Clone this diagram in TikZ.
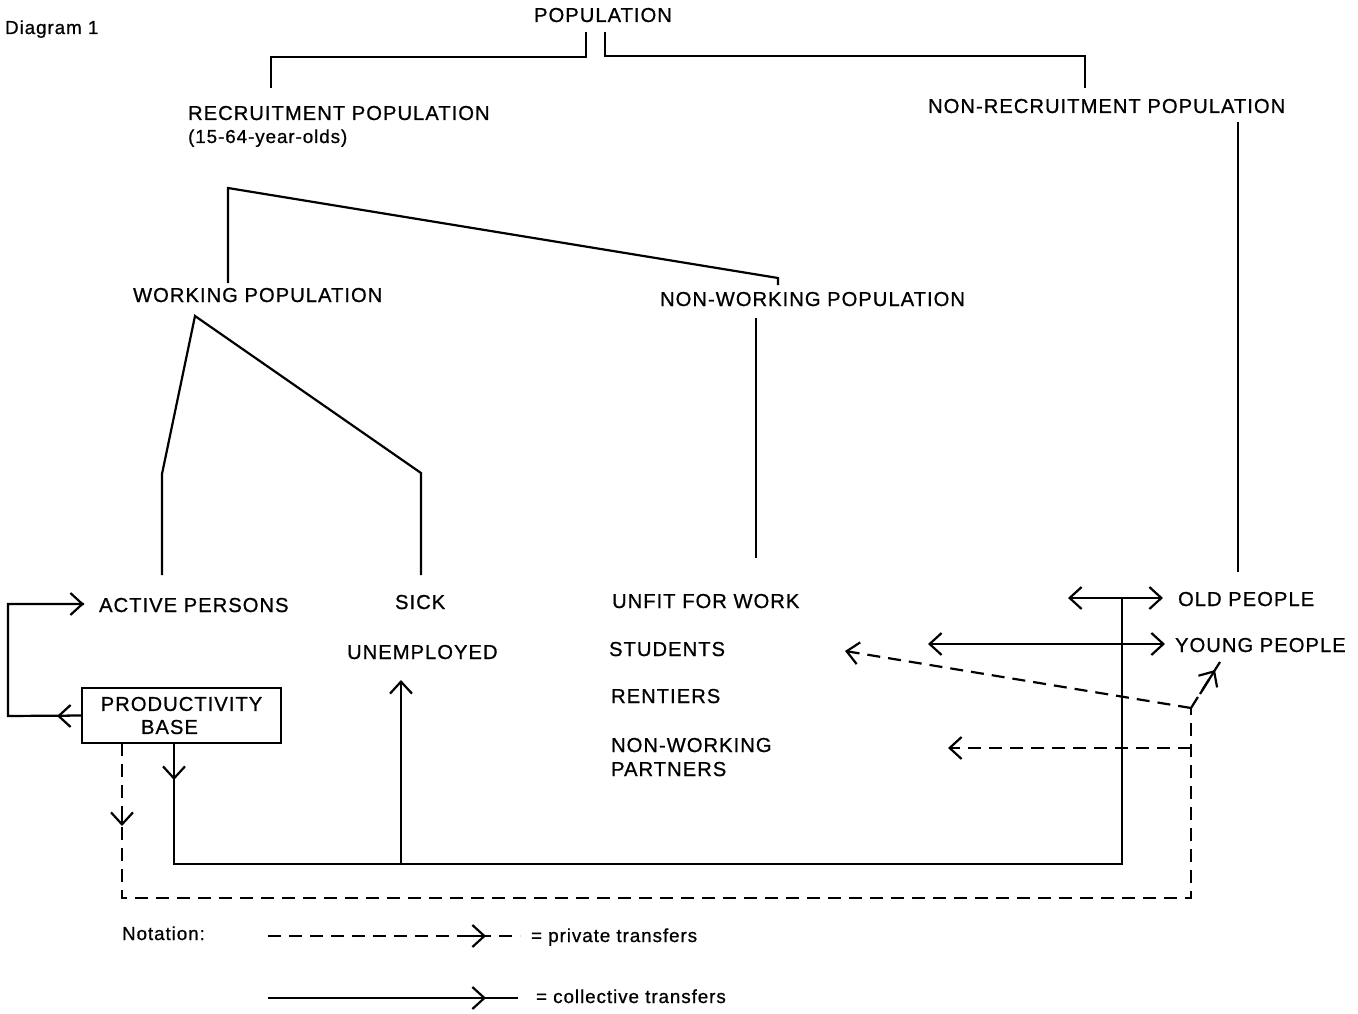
\documentclass[tikz,border=0pt]{standalone}
\usepackage{fontspec}
\setmainfont{Liberation Sans}[LetterSpace=5,FakeBold=0.8]
\usetikzlibrary{arrows.meta}
\tikzset{
  lbl/.style={inner sep=0pt, anchor=base west, font=\fontsize{20.2}{24}\selectfont},
  sml/.style={inner sep=0pt, anchor=base west, font=\fontsize{18.8}{22}\selectfont},
  priv/.style={dash pattern=on 13pt off 8pt},
  boxstyle/.style={draw, rectangle, inner sep=0pt, minimum width=199pt, minimum height=55pt,
    align=center, font=\fontsize{20.2}{23}\selectfont},
  >={Straight Barb[length=12pt,width=22pt]}
}
\begin{document}
\begin{tikzpicture}[x=1pt,y=-1pt,line width=2.2pt]
\useasboundingbox (0,0) rectangle (1358,1014);
% texts
\node[sml] (diag) at (4,34) {Diagram 1};
\node[lbl] (pop) at (533,22) {POPULATION};
\node[lbl] (rec) at (187,120) {RECRUITMENT POPULATION};
\node[sml] (recage) at (187,143) {(15-64-year-olds)};
\node[lbl] (nonrec) at (927,113) {NON-RECRUITMENT POPULATION};
\node[lbl] (work) at (132,302) {WORKING POPULATION};
\node[lbl] (nonwork) at (659,306) {NON-WORKING POPULATION};
\node[lbl] (active) at (98,612) {ACTIVE PERSONS};
\node[lbl] (sick) at (394,609) {SICK};
\node[lbl] (unemp) at (346,659) {UNEMPLOYED};
\node[lbl] (unfit) at (611,608) {UNFIT FOR WORK};
\node[lbl] (stud) at (608,656) {STUDENTS};
\node[lbl] (rent) at (610,703) {RENTIERS};
\node[lbl] (nwp1) at (610,752) {NON-WORKING};
\node[lbl] (nwp2) at (610,776) {PARTNERS};
\node[lbl] (old) at (1177,606) {OLD PEOPLE};
\node[lbl] (young) at (1174,652) {YOUNG PEOPLE};
\node[boxstyle] (pb) at (181.5,715.5) {PRODUCTIVITY\\\hspace*{-24pt}BASE};
\node[sml] (nota) at (121,940) {Notation:};
\node[sml] (privl) at (530,942) {= private transfers};
\node[sml] (colll) at (535,1003) {= collective transfers};

% named junctions
\coordinate (popL) at (586,32);
\coordinate (popR) at (605,32);
\coordinate (recTop) at (228,188);
\coordinate (nwTop) at (778,278);
\coordinate (wApex) at (195,316);
\coordinate (youngJ) at (1191,708);
\coordinate (pbS1) at (122,743);
\coordinate (pbS2) at (174,743);

% tree
\draw (popL) -- (586,57) -| (271,88);
\draw (popR) -- (605,56) -| (1085,88);
\draw (228,283) -- (recTop) -- (nwTop) -- (778,285);
\draw (162,575) -- (162,474) -- (wApex) -- (421,473) -- (421,575);
\draw (756,318) -- (756,558);
\draw (1238,122) -- (1238,572);

% productivity loop
\draw (pb.west) -- (8,716) -- (8,604) -- (84,604);
\draw[->] (70,716) -- (57,716);
\draw[->] (70,604) -- (84,604);

% collective transfers
\draw (pbS2) -- (174,864) -- (1122,864) -- (1122,598);
\draw[->] (174,766) -- (174,780);
\draw[<->] (1068,598) -- (1163,598);
\draw[<->] (928,644) -- (1165,644);
\draw[->] (401,864) -- (401,680);

% private transfers
\draw[priv] (pbS1) -- (122,898) -- (1191,898) -- (youngJ);
\draw[->] (122,812) -- (122,826);
\draw[priv,->] (youngJ) -- (845,651);
\draw[priv,->] (1191,748) -- (948,748);
\draw[priv] (youngJ) -- (1220,662);
\draw[->] (1200,694) -- (1215,670);

% notation
\draw[priv] (268,936) -- (520,936);
\draw[->] (470,936) -- (486,936);
\draw (268,998) -- (518,998);
\draw[->] (470,998) -- (486,998);
\end{tikzpicture}
\end{document}
